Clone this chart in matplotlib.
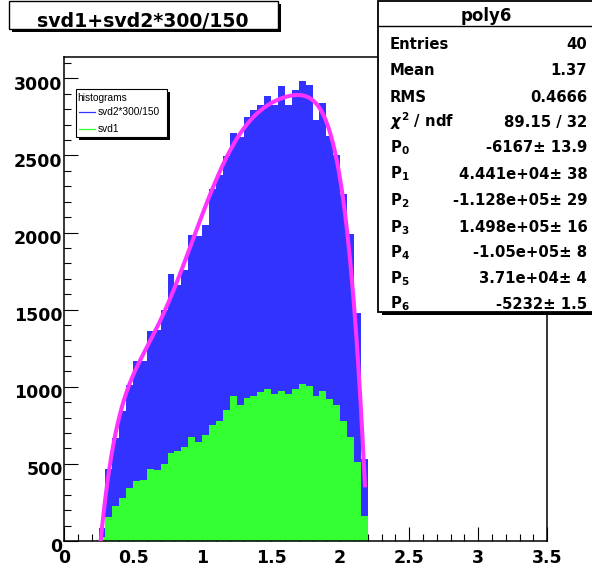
import matplotlib
matplotlib.use("Agg")
import matplotlib.pyplot as plt
import numpy as np
from matplotlib.patches import Rectangle
from matplotlib.lines import Line2D
from matplotlib.ticker import MultipleLocator, FuncFormatter
import matplotlib.transforms as mtransforms

# ---------------- data ----------------
bin_start = 0.25
bin_width = 0.05
# svd1+svd2*300/150 (blue) per bin, starting at 0.25
blue_counts = [85, 466, 665, 844, 1010, 1166, 1170, 1362, 1365, 1495,
               1734, 1660, 1760, 1982, 1975, 2047, 2284, 2370, 2494, 2644,
               2619, 2748, 2792, 2824, 2882, 2824, 2948, 2824, 2922, 2983,
               2955, 2731, 2839, 2629, 2504, 2252, 1988, 1478, 531]
# svd1 (green) per bin
green_counts = [28, 157, 227, 276, 341, 389, 395, 464, 462, 497,
                568, 583, 611, 674, 643, 686, 749, 775, 848, 939,
                881, 928, 942, 966, 988, 952, 971, 950, 983, 1020,
                1005, 941, 972, 918, 881, 779, 675, 510, 162]
# poly6 fit parameters P0..P6 (the stats box shows them rounded to 4 digits)
poly_params = [-6167, 44414, -112849, 149849, -105000, 37098, -5232]
fit_range = (0.25, 2.18)

title_text = "svd1+svd2*300/150"
legend_header = "histograms"
legend_labels = ["svd2*300/150", "svd1"]
stats_title = "poly6"
stat_names = ["Entries", "Mean", "RMS", r"$\chi^{2}$ / ndf",
              r"$\mathbf{P_{0}}$", r"$\mathbf{P_{1}}$", r"$\mathbf{P_{2}}$",
              r"$\mathbf{P_{3}}$", r"$\mathbf{P_{4}}$", r"$\mathbf{P_{5}}$",
              r"$\mathbf{P_{6}}$"]
stat_values = ["40", "1.37", "0.4666", "89.15 / 32",
               "-6167\u00b1 13.9", "4.441e+04\u00b1 38", "-1.128e+05\u00b1 29",
               "1.498e+05\u00b1 16", "-1.05e+05\u00b1 8", "3.71e+04\u00b1 4",
               "-5232\u00b1 1.5"]

# ---------------- figure ----------------
plt.rcParams["font.family"] = ["DejaVu Sans"]
plt.rcParams["font.weight"] = "bold"
plt.rcParams["mathtext.fontset"] = "dejavusans"

W, H = 592, 569
fig = plt.figure(figsize=(W / 100, H / 100), dpi=100)
fig.patch.set_facecolor("white")


def fx(x):
    return x / W


def fy(y):
    return 1 - y / H


BLUE = "#3333ff"
GREEN = "#33ff33"
MAGENTA = "#ff33ff"

ax = fig.add_axes([fx(64), fy(541), (547.3 - 64) / W, (541 - 57.3) / H])

edges = bin_start + bin_width * np.arange(len(blue_counts))
ax.bar(edges, blue_counts, width=bin_width, align="edge", color=BLUE,
       linewidth=0, zorder=1)
ax.bar(edges, green_counts, width=bin_width, align="edge", color=GREEN,
       linewidth=0, zorder=2)

xf = np.linspace(fit_range[0], fit_range[1], 500)
yf = np.polynomial.polynomial.polyval(xf, poly_params)
ax.plot(xf, yf, color=MAGENTA, lw=2.9, zorder=3, solid_capstyle="butt")

ax.set_xlim(0, 3.5)
ax.set_ylim(0, 3136)
ax.xaxis.set_major_locator(MultipleLocator(0.5))
ax.xaxis.set_minor_locator(MultipleLocator(0.1))
ax.yaxis.set_major_locator(MultipleLocator(500))
ax.yaxis.set_minor_locator(MultipleLocator(100))
ax.xaxis.set_major_formatter(FuncFormatter(lambda v, p: f"{v:g}"))
ax.yaxis.set_major_formatter(FuncFormatter(lambda v, p: f"{v:g}"))

ax.tick_params(which="both", direction="in", top=False, right=False,
               width=0.8, color="black")
ax.tick_params(which="major", length=10)
ax.tick_params(which="minor", length=5)
ax.tick_params(axis="x", pad=5.5, labelsize=12.5)
ax.tick_params(axis="y", pad=1.0, labelsize=12.5)
for sp in ax.spines.values():
    sp.set_linewidth(1.1)
    sp.set_color("black")

shift = mtransforms.ScaledTranslation(0, -4.5 / 100, fig.dpi_scale_trans)
for lab in ax.get_yticklabels():
    lab.set_transform(lab.get_transform() + shift)


def box(x0, y0, x1, y1, shadow=3.0, lw=1.0, z=5):
    fig.add_artist(Rectangle((fx(x0 + shadow), fy(y1 + shadow)),
                             (x1 - x0) / W, (y1 - y0) / H,
                             transform=fig.transFigure, facecolor="black",
                             edgecolor="none", zorder=z))
    fig.add_artist(Rectangle((fx(x0), fy(y1)), (x1 - x0) / W, (y1 - y0) / H,
                             transform=fig.transFigure, facecolor="white",
                             edgecolor="black", linewidth=lw, zorder=z + 0.1))


# title box
box(9, 1.2, 278.3, 29.3, shadow=3)
fig.text(fx(142.5), fy(27.3), title_text, ha="center", va="baseline",
         fontsize=13.6, fontweight="bold", zorder=6)

# legend box
box(75.5, 88.5, 166.5, 136.5, shadow=3.5, lw=0.8)
fig.text(fx(77.3), fy(97.7), legend_header, ha="left", va="center",
         fontsize=7.3, fontweight="normal", family="Liberation Sans", zorder=6)
for i, (lab, col) in enumerate(zip(legend_labels, [BLUE, GREEN])):
    yy = 112.3 + 17 * i
    fig.add_artist(Line2D([fx(79.3), fx(95)], [fy(yy), fy(yy)],
                          transform=fig.transFigure, color=col, lw=0.9,
                          zorder=6))
    fig.text(fx(97.3), fy(yy), lab, ha="left", va="center", fontsize=7.3,
             fontweight="normal", family="Liberation Sans", zorder=6)

# stats box
box(378.3, 0.7, 640, 311.7, shadow=3.3, lw=1.3)
fig.add_artist(Line2D([fx(378.3), fx(600)], [fy(26), fy(26)],
                      transform=fig.transFigure, color="black", lw=1.0,
                      zorder=6))
fig.text(fx(486), fy(21), stats_title, ha="center", va="baseline",
         fontsize=12, fontweight="bold", zorder=6)
row_centers = [43.3, 70, 96.7, 121.7, 146.7, 173.3, 200, 226.7, 251.7,
               277.7, 303.3]
for name, val, yc in zip(stat_names, stat_values, row_centers):
    yb = yc + 5.4
    fig.text(fx(390), fy(yb), name, ha="left", va="baseline",
             fontsize=10.7, fontweight="bold", zorder=6)
    fig.text(fx(587.3), fy(yb), val, ha="right", va="baseline",
             fontsize=10.7, fontweight="bold", zorder=6)

fig.savefig("out.png", dpi=100)
